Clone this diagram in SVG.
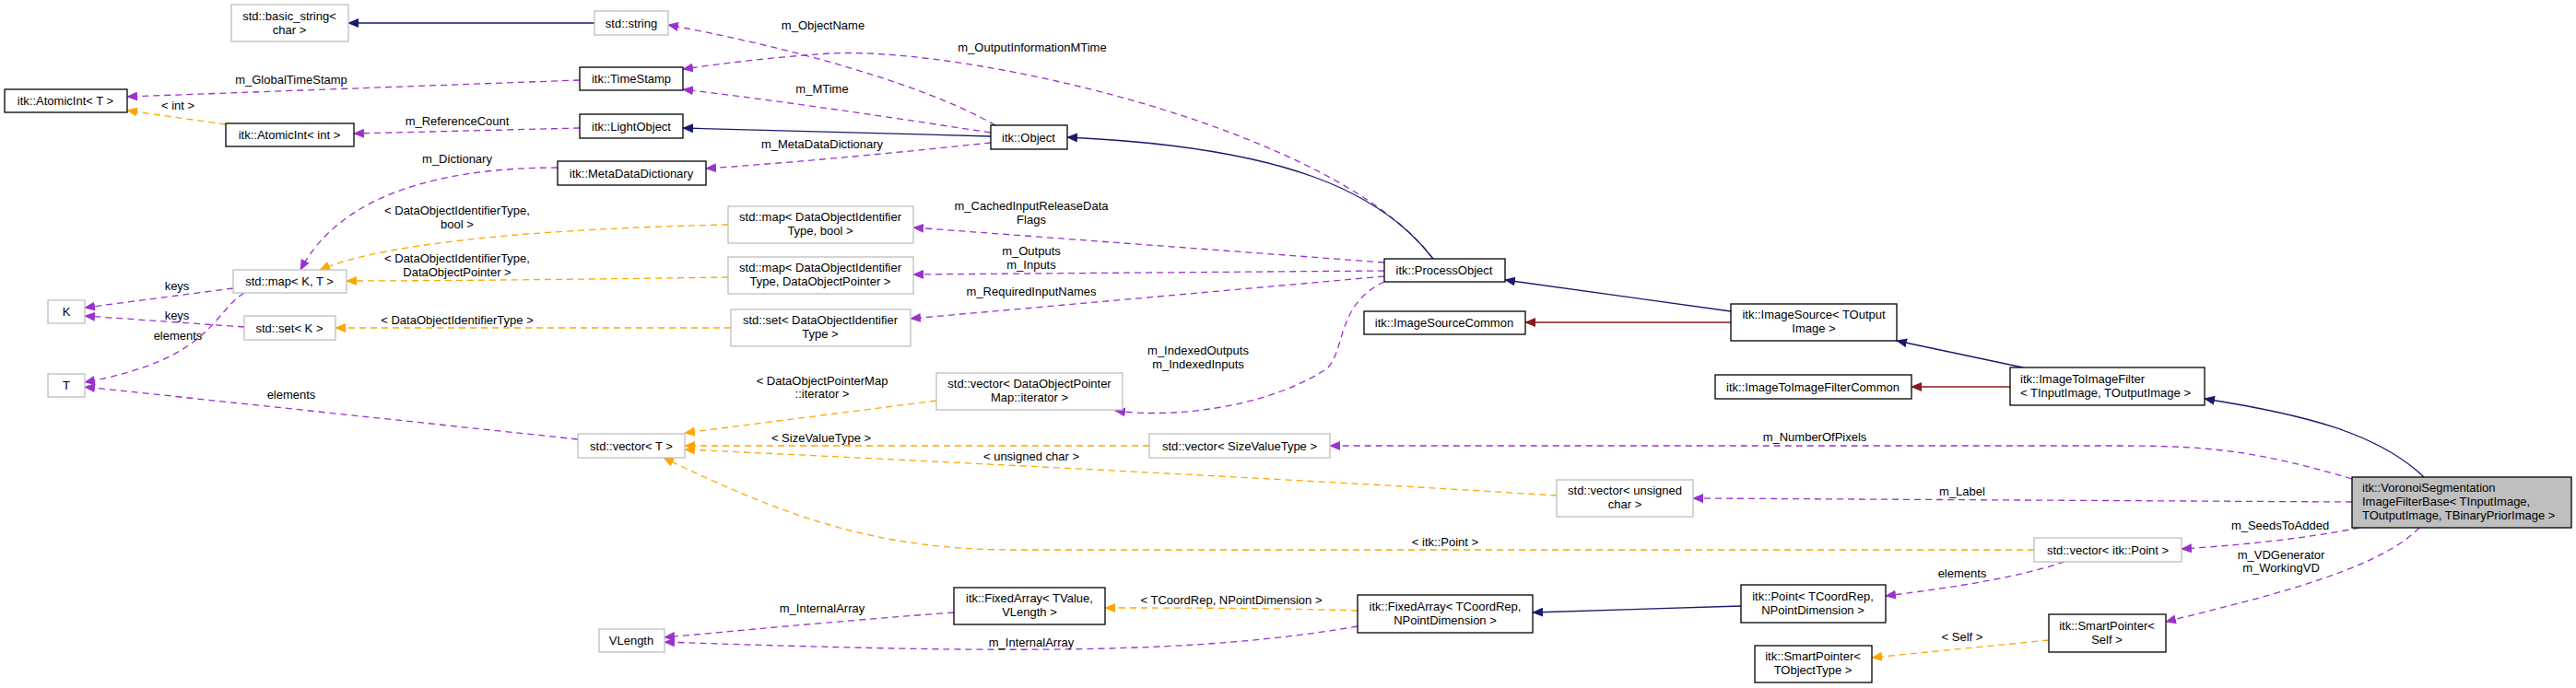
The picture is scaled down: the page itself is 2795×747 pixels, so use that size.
<svg xmlns="http://www.w3.org/2000/svg" width="2795" height="747" viewBox="0 0 2795 747">
<style>
text{font-family:"Liberation Sans",Arial,sans-serif;font-size:13px;fill:#000}
.n text{text-anchor:middle}
.l{text-anchor:middle}
.b rect{fill:#fff;stroke:#000;stroke-width:1.3}
.g rect{fill:#fff;stroke:#bfbfbf;stroke-width:1.3}
.e path{fill:none;stroke-width:1.3}
.p{stroke:#9a32cd;stroke-dasharray:7,5}
.o{stroke:#ffa500;stroke-dasharray:7,5}
.u{stroke:#191970}
.r{stroke:#8b1a1a}
</style>
<defs>
<marker id="mp" markerWidth="12" markerHeight="10" refX="11" refY="5" orient="auto" markerUnits="userSpaceOnUse"><path d="M0,0L12,5L0,10z" fill="#9a32cd"/></marker>
<marker id="mo" markerWidth="12" markerHeight="10" refX="11" refY="5" orient="auto" markerUnits="userSpaceOnUse"><path d="M0,0L12,5L0,10z" fill="#ffa500"/></marker>
<marker id="mu" markerWidth="12" markerHeight="10" refX="11" refY="5" orient="auto" markerUnits="userSpaceOnUse"><path d="M0,0L12,5L0,10z" fill="#191970"/></marker>
<marker id="mr" markerWidth="12" markerHeight="10" refX="11" refY="5" orient="auto" markerUnits="userSpaceOnUse"><path d="M0,0L12,5L0,10z" fill="#8b1a1a"/></marker>
</defs>
<rect width="2795" height="747" fill="#fff"/>
<g id="edges" class="e">
<path class="u" marker-end="url(#mu)" d="M645,25L378,25"/>
<path class="p" marker-end="url(#mp)" d="M1080,136C1000,90 850,50 725,27"/>
<path class="p" marker-end="url(#mp)" d="M1555,281C1450,140 1050,50 900,58C840,62 790,68 741,75"/>
<path class="p" marker-end="url(#mp)" d="M1075,144C950,125 850,110 741,97"/>
<path class="u" marker-end="url(#mu)" d="M1075,148L741,139"/>
<path class="p" marker-end="url(#mp)" d="M1075,155C980,165 880,175 766,183"/>
<path class="u" marker-end="url(#mu)" d="M1555,281C1500,210 1400,160 1158,149"/>
<path class="p" marker-end="url(#mp)" d="M629,87L138,105"/>
<path class="o" marker-end="url(#mo)" d="M245,135L138,120"/>
<path class="p" marker-end="url(#mp)" d="M629,139L384,145"/>
<path class="p" marker-end="url(#mp)" d="M605,182C480,182 370,210 326,293"/>
<path class="o" marker-end="url(#mo)" d="M790,244C600,248 420,262 347,293"/>
<path class="o" marker-end="url(#mo)" d="M790,301C650,303 480,305 376,305"/>
<path class="o" marker-end="url(#mo)" d="M793,356L364,356"/>
<path class="p" marker-end="url(#mp)" d="M253,313L92,334"/>
<path class="p" marker-end="url(#mp)" d="M265,355L92,343"/>
<path class="p" marker-end="url(#mp)" d="M265,318C230,340 230,390 92,415"/>
<path class="p" marker-end="url(#mp)" d="M627,477L92,420"/>
<path class="p" marker-end="url(#mp)" d="M1502,285L991,247"/>
<path class="p" marker-end="url(#mp)" d="M1502,294L991,298"/>
<path class="p" marker-end="url(#mp)" d="M1502,300L988,346"/>
<path class="p" marker-end="url(#mp)" d="M1502,306C1450,330 1460,380 1440,400C1380,440 1280,455 1210,446"/>
<path class="o" marker-end="url(#mo)" d="M1016,435L743,470"/>
<path class="o" marker-end="url(#mo)" d="M1247,484L743,484"/>
<path class="o" marker-end="url(#mo)" d="M1689,538C1400,520 1000,500 743,488"/>
<path class="o" marker-end="url(#mo)" d="M2207,597L1100,597C950,597 850,560 720,497"/>
<path class="p" marker-end="url(#mp)" d="M2552,520C2450,490 2400,484 2300,484L1443,484"/>
<path class="p" marker-end="url(#mp)" d="M2552,545L1837,541"/>
<path class="p" marker-end="url(#mp)" d="M2560,573C2500,585 2430,592 2367,596"/>
<path class="p" marker-end="url(#mp)" d="M2625,573C2580,620 2450,650 2350,675"/>
<path class="p" marker-end="url(#mp)" d="M2240,610C2180,630 2100,640 2046,647"/>
<path class="u" marker-end="url(#mu)" d="M1889,658L1663,665"/>
<path class="o" marker-end="url(#mo)" d="M1473,663C1380,660 1280,660 1199,660"/>
<path class="p" marker-end="url(#mp)" d="M1035,665C900,675 800,685 721,692"/>
<path class="p" marker-end="url(#mp)" d="M1473,680C1300,710 1100,710 721,697"/>
<path class="o" marker-end="url(#mo)" d="M2223,695L2031,714"/>
<path class="r" marker-end="url(#mr)" d="M1878,350L1655,350"/>
<path class="u" marker-end="url(#mu)" d="M1878,338L1633,304"/>
<path class="u" marker-end="url(#mu)" d="M2195,399L2058,370"/>
<path class="r" marker-end="url(#mr)" d="M2181,420L2074,420"/>
<path class="u" marker-end="url(#mu)" d="M2630,518C2580,470 2500,450 2392,433"/>
</g>
<g id="labels">
<text class="l" x="893" y="32">m_ObjectName</text>
<text class="l" x="1120" y="56">m_OutputInformationMTime</text>
<text class="l" x="892" y="101">m_MTime</text>
<text class="l" x="892" y="161">m_MetaDataDictionary</text>
<text class="l" x="316" y="91">m_GlobalTimeStamp</text>
<text class="l" x="193" y="119">&lt; int &gt;</text>
<text class="l" x="496" y="136">m_ReferenceCount</text>
<text class="l" x="496" y="177">m_Dictionary</text>
<text class="l" x="496" y="233">&lt; DataObjectIdentifierType,</text>
<text class="l" x="496" y="248">bool &gt;</text>
<text class="l" x="496" y="285">&lt; DataObjectIdentifierType,</text>
<text class="l" x="496" y="300">DataObjectPointer &gt;</text>
<text class="l" x="496" y="352">&lt; DataObjectIdentifierType &gt;</text>
<text class="l" x="192" y="315">keys</text>
<text class="l" x="192" y="347">keys</text>
<text class="l" x="193" y="369">elements</text>
<text class="l" x="316" y="433">elements</text>
<text class="l" x="1119" y="228">m_CachedInputReleaseData</text>
<text class="l" x="1119" y="243">Flags</text>
<text class="l" x="1119" y="277">m_Outputs</text>
<text class="l" x="1119" y="292">m_Inputs</text>
<text class="l" x="1119" y="321">m_RequiredInputNames</text>
<text class="l" x="1300" y="385">m_IndexedOutputs</text>
<text class="l" x="1300" y="400">m_IndexedInputs</text>
<text class="l" x="892" y="418">&lt; DataObjectPointerMap</text>
<text class="l" x="892" y="432">::iterator &gt;</text>
<text class="l" x="891" y="480">&lt; SizeValueType &gt;</text>
<text class="l" x="1119" y="500">&lt; unsigned char &gt;</text>
<text class="l" x="1568" y="593">&lt; itk::Point &gt;</text>
<text class="l" x="1969" y="479">m_NumberOfPixels</text>
<text class="l" x="2129" y="538">m_Label</text>
<text class="l" x="2474" y="575">m_SeedsToAdded</text>
<text class="l" x="2475" y="607">m_VDGenerator</text>
<text class="l" x="2475" y="621">m_WorkingVD</text>
<text class="l" x="2129" y="627">elements</text>
<text class="l" x="1336" y="656">&lt; TCoordRep, NPointDimension &gt;</text>
<text class="l" x="892" y="665">m_InternalArray</text>
<text class="l" x="1119" y="702">m_InternalArray</text>
<text class="l" x="2129" y="696">&lt; Self &gt;</text>
</g>
<g id="n_basic_string" class="n g"><rect x="251" y="5" width="127" height="40"/><text x="314" y="22">std::basic_string&lt;</text><text x="314" y="37">char &gt;</text></g>
<g id="n_string" class="n g"><rect x="645" y="12" width="80" height="26"/><text x="685" y="30">std::string</text></g>
<g id="n_timestamp" class="n b"><rect x="629" y="73" width="112" height="25"/><text x="685" y="90">itk::TimeStamp</text></g>
<g id="n_atomic_t" class="n b"><rect x="5" y="97" width="133" height="25"/><text x="71" y="114">itk::AtomicInt&lt; T &gt;</text></g>
<g id="n_atomic_int" class="n b"><rect x="245" y="134" width="139" height="25"/><text x="314" y="151">itk::AtomicInt&lt; int &gt;</text></g>
<g id="n_lightobject" class="n b"><rect x="629" y="124" width="112" height="26"/><text x="685" y="142">itk::LightObject</text></g>
<g id="n_metadatadict" class="n b"><rect x="605" y="175" width="161" height="26"/><text x="685" y="193">itk::MetaDataDictionary</text></g>
<g id="n_object" class="n b"><rect x="1075" y="136" width="83" height="26"/><text x="1116" y="154">itk::Object</text></g>
<g id="n_map_kt" class="n g"><rect x="253" y="293" width="123" height="25"/><text x="314" y="310">std::map&lt; K, T &gt;</text></g>
<g id="n_k" class="n g"><rect x="52" y="326" width="40" height="25"/><text x="72" y="343">K</text></g>
<g id="n_set_k" class="n g"><rect x="265" y="343" width="99" height="26"/><text x="314" y="361">std::set&lt; K &gt;</text></g>
<g id="n_t" class="n g"><rect x="52" y="406" width="40" height="25"/><text x="72" y="423">T</text></g>
<g id="n_vector_t" class="n g"><rect x="627" y="471" width="116" height="26"/><text x="685" y="489">std::vector&lt; T &gt;</text></g>
<g id="n_vlength" class="n g"><rect x="650" y="683" width="71" height="25"/><text x="685" y="700">VLength</text></g>
<g id="n_map_bool" class="n g"><rect x="790" y="224" width="201" height="40"/><text x="890" y="240">std::map&lt; DataObjectIdentifier</text><text x="890" y="255">Type, bool &gt;</text></g>
<g id="n_map_dop" class="n g"><rect x="790" y="279" width="201" height="40"/><text x="890" y="295">std::map&lt; DataObjectIdentifier</text><text x="890" y="310">Type, DataObjectPointer &gt;</text></g>
<g id="n_set_doi" class="n g"><rect x="793" y="336" width="195" height="40"/><text x="890" y="352">std::set&lt; DataObjectIdentifier</text><text x="890" y="367">Type &gt;</text></g>
<g id="n_vec_iter" class="n g"><rect x="1016" y="405" width="202" height="40"/><text x="1117" y="421">std::vector&lt; DataObjectPointer</text><text x="1117" y="436">Map::iterator &gt;</text></g>
<g id="n_vec_size" class="n g"><rect x="1247" y="471" width="196" height="26"/><text x="1345" y="489">std::vector&lt; SizeValueType &gt;</text></g>
<g id="n_fixed_tvalue" class="n b"><rect x="1035" y="638" width="164" height="40"/><text x="1117" y="654">itk::FixedArray&lt; TValue,</text><text x="1117" y="669">VLength &gt;</text></g>
<g id="n_processobject" class="n b"><rect x="1502" y="281" width="131" height="25"/><text x="1567" y="298">itk::ProcessObject</text></g>
<g id="n_imagesourcecommon" class="n b"><rect x="1480" y="338" width="175" height="25"/><text x="1567" y="355">itk::ImageSourceCommon</text></g>
<g id="n_imagesource" class="n b"><rect x="1878" y="330" width="180" height="40"/><text x="1968" y="346">itk::ImageSource&lt; TOutput</text><text x="1968" y="361">Image &gt;</text></g>
<g id="n_i2icommon" class="n b"><rect x="1861" y="407" width="213" height="26"/><text x="1967" y="425">itk::ImageToImageFilterCommon</text></g>
<g id="n_i2i" class="b"><rect x="2181" y="399" width="211" height="41"/><text x="2192" y="416">itk::ImageToImageFilter</text><text x="2192" y="431">&lt; TInputImage, TOutputImage &gt;</text></g>
<g id="n_voronoi"><rect x="2552" y="518" width="238" height="55" fill="#bfbfbf" stroke="#000" stroke-width="1.3"/><text x="2563" y="534">itk::VoronoiSegmentation</text><text x="2563" y="549">ImageFilterBase&lt; TInputImage,</text><text x="2563" y="564"> TOutputImage, TBinaryPriorImage &gt;</text></g>
<g id="n_vec_point" class="n g"><rect x="2207" y="584" width="160" height="26"/><text x="2287" y="602">std::vector&lt; itk::Point &gt;</text></g>
<g id="n_vec_uchar" class="n g"><rect x="1689" y="521" width="148" height="40"/><text x="1763" y="537">std::vector&lt; unsigned</text><text x="1763" y="552">char &gt;</text></g>
<g id="n_fixed_tcr" class="n b"><rect x="1473" y="646" width="190" height="41"/><text x="1568" y="663">itk::FixedArray&lt; TCoordRep,</text><text x="1568" y="678">NPointDimension &gt;</text></g>
<g id="n_point" class="n b"><rect x="1889" y="635" width="157" height="41"/><text x="1967" y="652">itk::Point&lt; TCoordRep,</text><text x="1967" y="667">NPointDimension &gt;</text></g>
<g id="n_sp_self" class="n b"><rect x="2223" y="667" width="127" height="41"/><text x="2286" y="684">itk::SmartPointer&lt;</text><text x="2286" y="699">Self &gt;</text></g>
<g id="n_sp_tobj" class="n b"><rect x="1904" y="701" width="127" height="40"/><text x="1967" y="717">itk::SmartPointer&lt;</text><text x="1967" y="732">TObjectType &gt;</text></g>
</svg>
